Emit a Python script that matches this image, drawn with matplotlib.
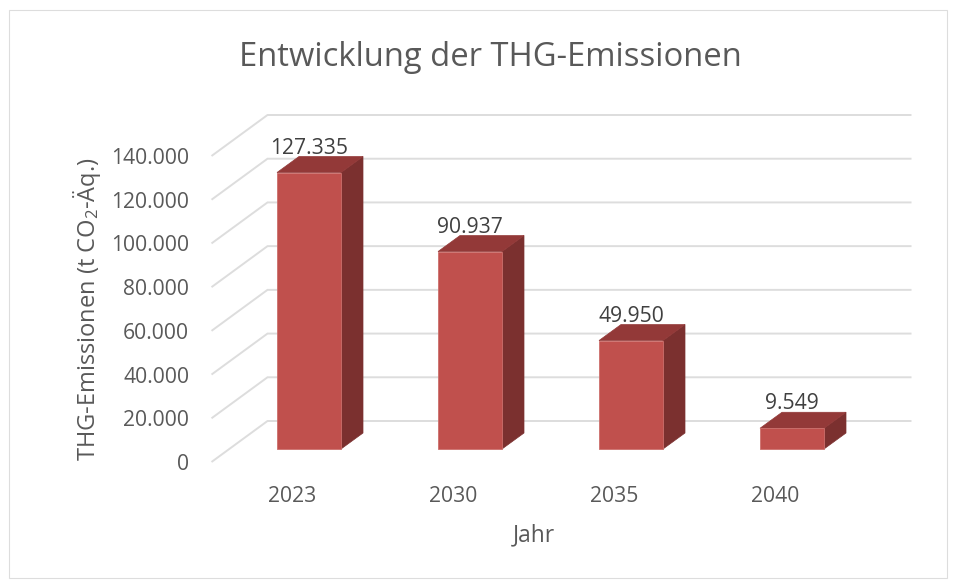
import matplotlib
matplotlib.use("Agg")
import matplotlib.pyplot as plt
from matplotlib.patches import Polygon, Rectangle
from matplotlib.lines import Line2D
from matplotlib.transforms import IdentityTransform

years = ["2023", "2030", "2035", "2040"]
emissions = [127335, 90937, 49950, 9549]
value_labels = ["127.335", "90.937", "49.950", "9.549"]
y_ticks = [0, 20000, 40000, 60000, 80000, 100000, 120000, 140000]
y_tick_labels = ["0", "20.000", "40.000", "60.000", "80.000", "100.000", "120.000", "140.000"]
title = "Entwicklung der THG-Emissionen"
x_title = "Jahr"
y_title = "THG-Emissionen (t CO$_2$-Äq.)"

W, H = 957, 581
FONT = "Open Sans"
plt.rcParams["font.family"] = [FONT, "DejaVu Sans"]
plt.rcParams["mathtext.fontset"] = "custom"
plt.rcParams["mathtext.rm"] = FONT
plt.rcParams["mathtext.default"] = "rm"

TXT = "#595959"
LBL = "#404040"
GRID = "#DDDDDD"
FRONT = "#C0504D"
SIDE = "#7B302F"
TOP = "#933938"
EDGE = "#CC6F6C"

fig = plt.figure(figsize=(W / 100, H / 100), dpi=100, facecolor="white")
fig.add_artist(Rectangle((9 / W, 1 - 578 / H), 938 / W, 568 / H, transform=fig.transFigure,
                         fill=False, edgecolor=GRID, linewidth=0.8))


def box(l, top, r, bottom):
    return [l / W, 1 - bottom / H, (r - l) / W, (bottom - top) / H]


# front plane axes: carries scale, tick labels and titles
ax = fig.add_axes(box(211.5, 156, 855.5, 462))
ax.set_xlim(-0.5, 3.5)
ax.set_ylim(0, 140000)
ax.patch.set_visible(False)
for s in ax.spines.values():
    s.set_visible(False)
ax.set_xticks(range(len(years)), years)
ax.set_yticks(y_ticks, y_tick_labels)
ax.tick_params(axis="both", length=0, labelsize=15.2, labelcolor=TXT)
ax.tick_params(axis="y", pad=16)
ax.tick_params(axis="x", pad=17)
ax.set_xlabel(x_title, fontsize=16.4, color=TXT, labelpad=12)
ax.set_ylabel(y_title, fontsize=17, color=TXT, labelpad=6)

# bars axes: slightly inset in the pseudo-3D floor
ax_b = fig.add_axes(box(228.5, 145, 872.5, 449))
ax_b.set_xlim(-0.5, 3.5)
ax_b.set_ylim(0, 140000)
ax_b.axis("off")

WALL_DX, WALL_DY = 56, 41
BAR_DX, BAR_DY = 22, 16
BAR_W = 0.3975
I = IdentityTransform()

for v in y_ticks:
    p0 = ax.transData.transform((-0.5, v))
    p1 = p0 + (WALL_DX, WALL_DY)
    p2 = ax.transData.transform((3.5, v)) + (WALL_DX, WALL_DY)
    fig.add_artist(Line2D([p0[0], p1[0], p2[0]], [p0[1], p1[1], p2[1]], transform=I,
                          color=GRID, lw=1.4, solid_joinstyle="miter", solid_capstyle="butt",
                          zorder=0.5))

for i, (v, lab) in enumerate(zip(emissions, value_labels)):
    a = ax_b.transData.transform((i - BAR_W / 2, 0))
    b = ax_b.transData.transform((i + BAR_W / 2, 0))
    c = ax_b.transData.transform((i + BAR_W / 2, v))
    d = ax_b.transData.transform((i - BAR_W / 2, v))
    off = (BAR_DX, BAR_DY)
    fig.add_artist(Polygon([b, b + off, c + off, c], closed=True, transform=I, facecolor=SIDE,
                           edgecolor=SIDE, lw=0.5, zorder=2))
    fig.add_artist(Polygon([d, c, c + off, d + off], closed=True, transform=I, facecolor=TOP,
                           edgecolor=TOP, lw=0.5, zorder=2))
    fig.add_artist(Polygon([a, b, c, d], closed=True, transform=I, facecolor=FRONT,
                           edgecolor=EDGE, lw=0.6, zorder=2.1))
    ax_b.annotate(lab, xy=(i, v), xytext=(0, 24.5 * 0.72), textcoords="offset points",
                  ha="center", va="center", fontsize=15.2, color=LBL, zorder=5,
                  annotation_clip=False)

fig.text(490 / W, 1 - 58 / H, title, fontsize=23.6, color=TXT, ha="center", va="center")

fig.savefig("out.png", dpi=100)
